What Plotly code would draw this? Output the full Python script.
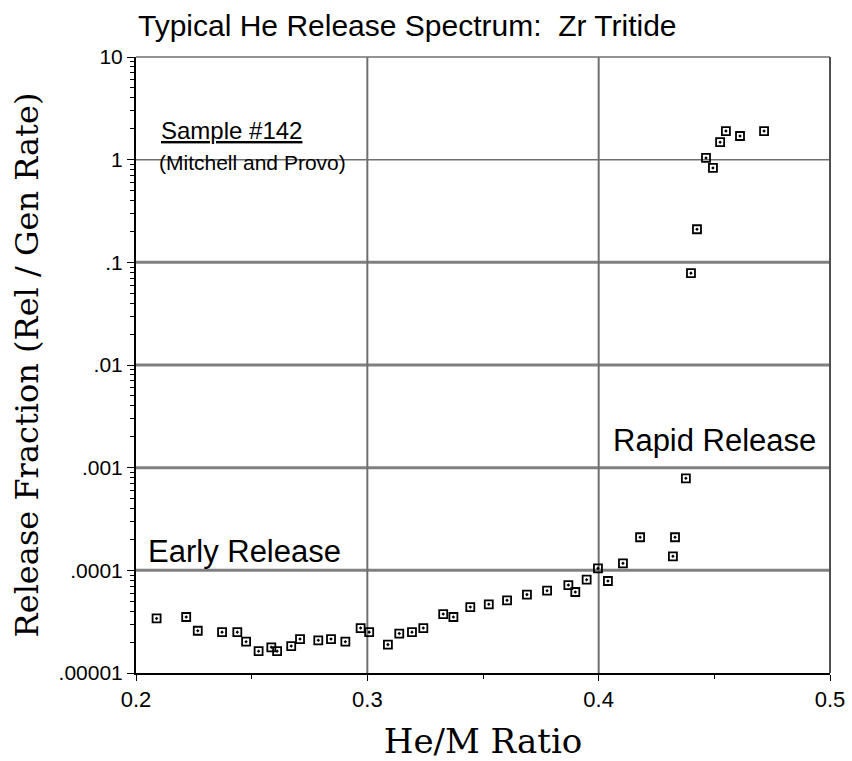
import plotly.graph_objects as go

he_m = [0.2089, 0.2217, 0.2267, 0.2372, 0.2438, 0.2476, 0.2530, 0.2585, 0.2610, 0.2671,
        0.2709, 0.2788, 0.2843, 0.2905, 0.2971, 0.3008, 0.3089, 0.3138, 0.3193, 0.3242,
        0.3328, 0.3372, 0.3445, 0.3525, 0.3604, 0.3690, 0.3777, 0.3869, 0.3899, 0.3948,
        0.3997, 0.4040, 0.4105, 0.4179, 0.4321, 0.4330, 0.4377,
        0.4399, 0.4425, 0.4464, 0.4494, 0.4525, 0.4550, 0.4611, 0.4715]
release = [3.40e-5, 3.51e-5, 2.58e-5, 2.50e-5, 2.50e-5, 2.02e-5, 1.63e-5, 1.78e-5, 1.63e-5, 1.83e-5,
           2.14e-5, 2.08e-5, 2.14e-5, 2.02e-5, 2.74e-5, 2.50e-5, 1.89e-5, 2.42e-5, 2.50e-5, 2.74e-5,
           3.75e-5, 3.51e-5, 4.39e-5, 4.67e-5, 5.10e-5, 5.80e-5, 6.34e-5, 7.19e-5, 6.15e-5, 8.11e-5,
           1.045e-4, 7.87e-5, 1.17e-4, 2.10e-4, 1.37e-4, 2.10e-4, 7.88e-4,
           0.0785, 0.21, 1.04, 0.83, 1.48, 1.9, 1.7, 1.9]

y_tickvals = [1e-5, 1e-4, 1e-3, 1e-2, 1e-1, 1, 10]
y_ticktext = [".00001", ".0001", ".001", ".01", ".1", "1", "10"]
x_tickvals = [0.2, 0.3, 0.4, 0.5]
x_ticktext = ["0.2", "0.3", "0.4", "0.5"]
h_grid = [1e-4, 1e-3, 1e-2, 1e-1]
v_grid = [0.3, 0.4]

fig = go.Figure()
fig.add_trace(go.Scatter(
    x=he_m, y=release, mode="markers",
    marker=dict(symbol="square-open-dot", size=8, color="black", line=dict(width=1.8)),
    showlegend=False, cliponaxis=False))

shapes = []
for v in h_grid:
    shapes.append(dict(type="line", xref="paper", yref="y", x0=0, x1=1, y0=v, y1=v,
                       line=dict(color="#808080", width=3), layer="below"))
shapes.append(dict(type="line", xref="paper", yref="y", x0=0, x1=1, y0=1, y1=1,
                   line=dict(color="#707070", width=1.5), layer="below"))
for v in v_grid:
    shapes.append(dict(type="line", xref="x", yref="paper", x0=v, x1=v, y0=0, y1=1,
                       line=dict(color="#707070", width=2), layer="below"))
shapes.append(dict(type="line", xref="paper", yref="paper", x0=0, x1=1, y0=1, y1=1,
                   line=dict(color="#707070", width=1.5)))
shapes.append(dict(type="line", xref="paper", yref="paper", x0=1, x1=1, y0=0, y1=1,
                   line=dict(color="#505050", width=2)))

serif = "DejaVu Serif, Liberation Serif, serif"

fig.update_layout(
    width=852, height=761,
    margin=dict(l=136, r=22, t=57, b=88, autoexpand=False),
    paper_bgcolor="white", plot_bgcolor="white",
    font=dict(family="Liberation Sans, Arial", color="black"),
    shapes=shapes,
    xaxis=dict(range=[0.2, 0.5], tickvals=x_tickvals, ticktext=x_ticktext, automargin=False,
               showgrid=False, zeroline=False, showline=True, linecolor="black", linewidth=2,
               ticks="outside", ticklen=6, tickwidth=1, tickcolor="black",
               tickfont=dict(size=22),
               minor=dict(dtick=0.05, ticks="outside", ticklen=4, tickcolor="black"),
               title=dict(text="He/M Ratio", font=dict(family=serif, size=34),
                          standoff=24)),
    yaxis=dict(type="log", range=[-5, 1], tickvals=y_tickvals, ticktext=y_ticktext, automargin=False,
               showgrid=False, zeroline=False, showline=True, linecolor="black", linewidth=2,
               ticks="outside", ticklen=7, tickwidth=1, tickcolor="black",
               tickfont=dict(size=21),
               minor=dict(dtick="D1", ticks="outside", ticklen=4, tickcolor="black", showgrid=False),
               title=dict(text="Release Fraction (Rel / Gen Rate)",
                          font=dict(family=serif, size=32), standoff=10)),
    annotations=[
        dict(text="Typical He Release Spectrum:  Zr Tritide", xref="paper", yref="paper",
             x=0.0, y=1, xanchor="left", yanchor="bottom", yshift=13, showarrow=False,
             font=dict(size=30)),
        dict(text="<u>Sample #142</u>", xref="paper", yref="paper", x=0.033, y=0.880,
             xanchor="left", yanchor="middle", showarrow=False, font=dict(size=24)),
        dict(text="(Mitchell and Provo)", xref="paper", yref="paper", x=0.03, y=0.828,
             xanchor="left", yanchor="middle", showarrow=False, font=dict(size=21)),
        dict(text="Early Release", xref="paper", yref="paper", x=0.015, y=0.198,
             xanchor="left", yanchor="middle", showarrow=False, font=dict(size=31)),
        dict(text="Rapid Release", xref="paper", yref="paper", x=0.684, y=0.377,
             xanchor="left", yanchor="middle", showarrow=False, font=dict(size=31)),
    ],
)

fig.write_html("out.html")
